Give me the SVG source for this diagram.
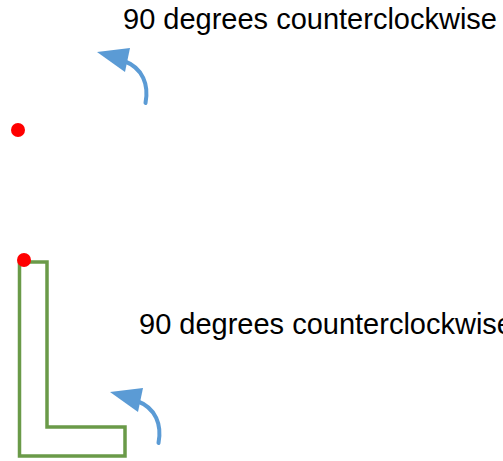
<svg xmlns="http://www.w3.org/2000/svg" width="503" height="461" viewBox="0 0 503 461">
<style>
.lbl{font-family:"Liberation Sans",Arial,sans-serif;font-size:29px;fill:#000}
.dot{fill:#ff0000}
.arc{fill:none;stroke:#5b9bd5;stroke-width:4;stroke-linecap:round}
.head{fill:#5b9bd5}
.shape{fill:none;stroke:#6a9a48;stroke-width:3.5}
</style>
<defs>
<g id="rot">
<path class="arc" d="M145.5 103 C149 85 143 68 124 61"/>
<polygon class="head" points="97,52 130,48 125,72"/>
</g>
</defs>
<g id="label1"><text class="lbl" x="123" y="29">90 degrees counterclockwise</text></g>
<g id="dot1"><circle class="dot" cx="18" cy="130" r="7"/></g>
<g id="Lshape"><polygon class="shape" points="19.5,262 47,262 47,427 125,427 125,456 19.5,456"/></g>
<g id="dot2"><circle class="dot" cx="24" cy="260" r="7"/></g>
<g id="label2"><text class="lbl" x="139" y="334">90 degrees counterclockwise</text></g>
<g id="connectors">
<use href="#rot"/>
<use href="#rot" transform="translate(13,340)"/>
</g>
</svg>
